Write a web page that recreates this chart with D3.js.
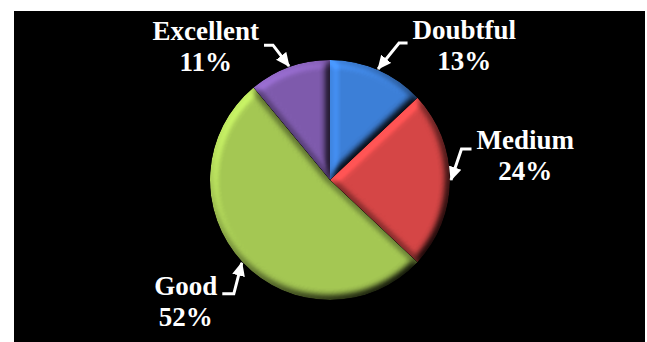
<!DOCTYPE html>
<html>
<head>
<meta charset="utf-8">
<script src="https://cdn.jsdelivr.net/npm/d3@7/dist/d3.min.js"></script>
<style>
  html, body { margin: 0; padding: 0; background: #fff; }
  svg { display: block; }
</style>
</head>
<body>
<script>
// Ratings share, clockwise from 12 o'clock
const categories = ["Doubtful", "Medium", "Good", "Excellent"];
const shares = [13, 24, 52, 11];
const sliceColors = ["#3b7cd2", "#d04444", "#a0c251", "#7b58a8"];

// Leader geometry per label: diagonal run from the rim, horizontal run, text baseline shift
const leaders = [
  { dx: 21, dy: -26, run: 8.5, textDy: -3.5 },
  { dx: 10.5, dy: -31, run: 10, textDy: 0 },
  { dx: -8, dy: 31, run: -11.5, textDy: 0.7 },
  { dx: -16, dy: -21, run: -9, textDy: -4.7 }
];

const W = 647, H = 342;
const cx = 330, cy = 180, R = 120;

const svg = d3.select("body").append("svg")
  .attr("width", W).attr("height", H);

// Black plot panel inside a thin white margin
svg.append("rect").attr("x", 14).attr("y", 11)
  .attr("width", 631).attr("height", H - 11).attr("fill", "#000");

const defs = svg.append("defs");

// Soft bevel lit from the upper left
const f = defs.append("filter").attr("id", "bevel")
  .attr("x", "-5%").attr("y", "-5%").attr("width", "110%").attr("height", "110%")
  .attr("color-interpolation-filters", "sRGB");
f.append("feGaussianBlur").attr("in", "SourceAlpha").attr("stdDeviation", 4).attr("result", "blur");
const lit = f.append("feDiffuseLighting").attr("in", "blur").attr("surfaceScale", 6)
  .attr("diffuseConstant", 1).attr("lighting-color", "#fff").attr("result", "light");
lit.append("feDistantLight").attr("azimuth", 225).attr("elevation", 55);
f.append("feComposite").attr("in", "light").attr("in2", "SourceGraphic")
  .attr("operator", "arithmetic").attr("k1", 1.25).attr("k2", 0).attr("k3", 0).attr("k4", 0)
  .attr("result", "lit");
f.append("feComposite").attr("in", "lit").attr("in2", "SourceAlpha").attr("operator", "in");

// Arrowhead for the leaders
defs.append("marker").attr("id", "head")
  .attr("markerUnits", "userSpaceOnUse")
  .attr("viewBox", "0 -7 14 14")
  .attr("markerWidth", 14).attr("markerHeight", 14)
  .attr("refX", 13).attr("refY", 0)
  .attr("orient", "auto")
  .append("path").attr("d", "M0,-6.5L14,0L0,6.5Z").attr("fill", "#fff");

const rows = categories.map((c, i) => ({ name: c, value: shares[i], color: sliceColors[i], lead: leaders[i] }));

const pie = d3.pie().sort(null).value(d => d.value);
const arcs = pie(rows);

const arc = d3.arc().innerRadius(0).outerRadius(R);
const rim = d3.arc().innerRadius(R + 1).outerRadius(R + 1);

const g = svg.append("g").attr("transform", `translate(${cx},${cy})`);

g.selectAll("path.slice").data(arcs).join("path")
  .attr("class", "slice")
  .attr("d", arc)
  .attr("fill", d => d.data.color)
  .attr("filter", "url(#bevel)");

// Labels with elbow leaders
const lab = svg.append("g");
arcs.forEach(d => {
  const [tx, ty] = rim.centroid(d);
  const tip = [cx + tx, cy + ty];
  const L = d.data.lead;
  const elbow = [tip[0] + L.dx, tip[1] + L.dy];
  const tail = [elbow[0] + L.run, elbow[1]];

  lab.append("path")
    .attr("d", `M${tail[0]},${tail[1]}L${elbow[0]},${elbow[1]}L${tip[0]},${tip[1]}`)
    .attr("fill", "none").attr("stroke", "#fff").attr("stroke-width", 3)
    .attr("stroke-linejoin", "miter")
    .attr("marker-end", "url(#head)");

  const t = lab.append("text")
    .attr("font-family", "'Liberation Serif', 'Times New Roman', serif")
    .attr("font-weight", "bold").attr("font-size", 27)
    .attr("fill", "#fff").attr("text-anchor", "middle");
  const l1 = t.append("tspan").text(d.data.name);
  const w = l1.node().getComputedTextLength();
  const side = L.run > 0 ? 1 : -1;
  const x = tail[0] + side * (5 + w / 2);
  const y = tail[1] + L.textDy;
  l1.attr("x", x).attr("y", y);
  t.append("tspan").attr("x", x).attr("y", y + 31).text(d.data.value + "%");
});
</script>
</body>
</html>
